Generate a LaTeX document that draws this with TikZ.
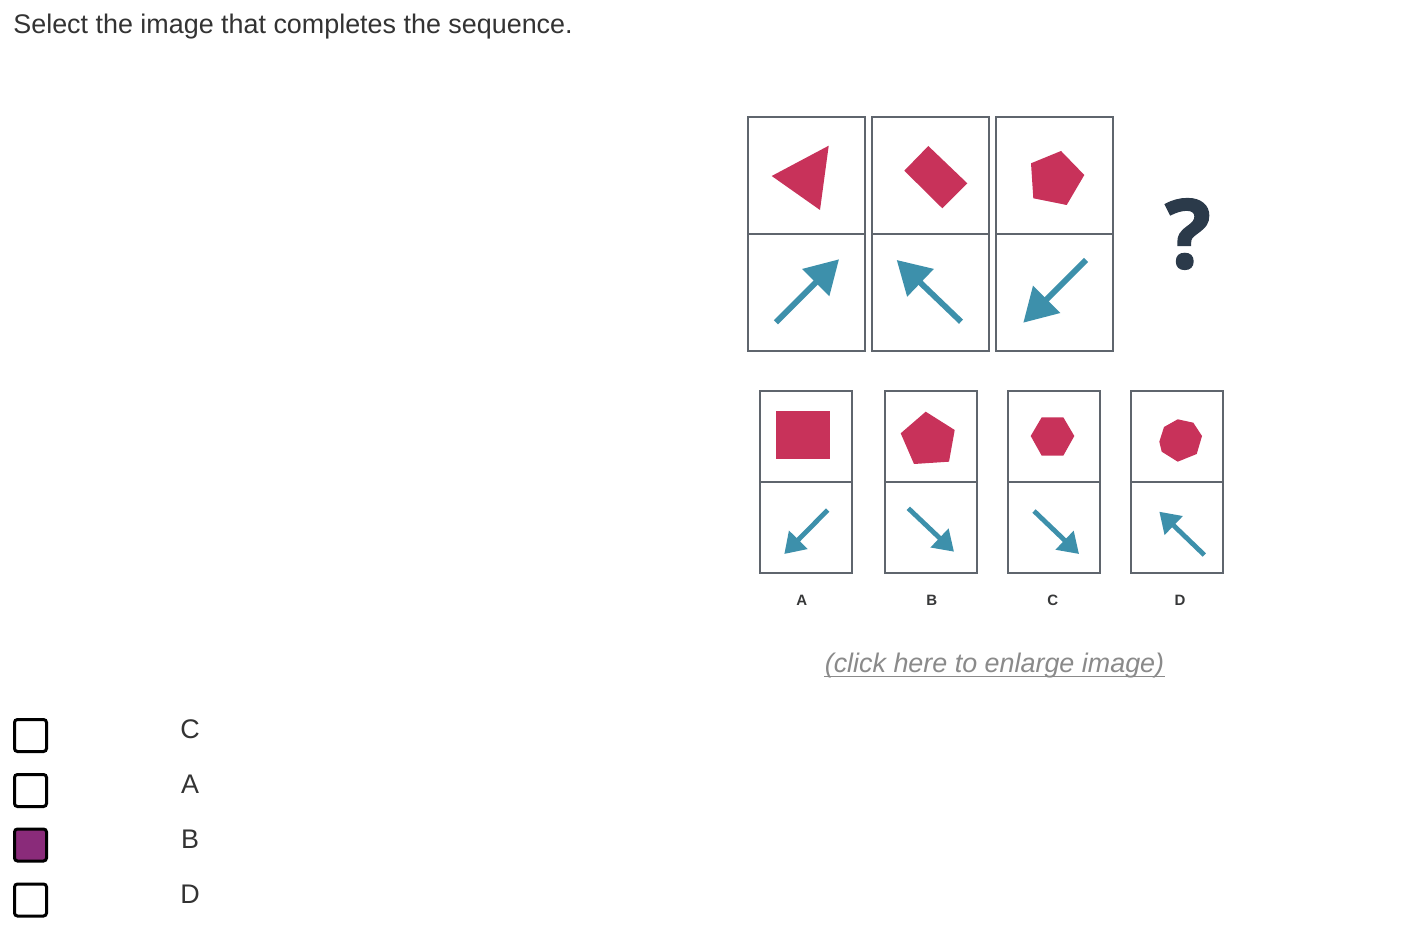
\documentclass[tikz,border=0pt]{standalone}
\usepackage{fontspec}
\setmainfont{Liberation Sans}
\newfontfamily\qfont[FakeBold=1.5]{Open Sans}
\usetikzlibrary{arrows.meta}
\definecolor{shapered}{HTML}{C8325A}
\definecolor{arrowblue}{HTML}{3D90AB}
\definecolor{cellgray}{HTML}{5F656D}
\definecolor{qdark}{HTML}{2B3A4A}
\definecolor{textgray}{HTML}{333333}
\definecolor{linkgray}{HTML}{8A8A8A}
\definecolor{tickpurple}{HTML}{8A2B7A}

\begin{document}
\begin{tikzpicture}[x=0.5pt, y=-0.5pt,
            cell/.style={rectangle, draw=cellgray, line width=1pt, fill=white, minimum width=58.5pt, minimum height=58.5pt, inner sep=0pt},
            optcell/.style={rectangle, draw=cellgray, line width=1pt, fill=white, minimum width=46pt, minimum height=45.5pt, inner sep=0pt},
            bigarrow/.style={draw=arrowblue, line width=2.9pt, -{Triangle[length=16.5pt, width=18.5pt]}},
            smallarrow/.style={draw=arrowblue, line width=2.4pt, -{Triangle[length=10pt, width=12.5pt]}},
            chk/.style={rectangle, draw=black, line width=1.5pt, rounded corners=1.5pt, minimum size=16pt, inner sep=0pt},
            choice/.style={text=textgray, font=\fontsize{13.45pt}{16pt}\selectfont},
            optlabel/.style={text=textgray!90!cellgray, font=\fontsize{7.5pt}{9pt}\selectfont\bfseries}
        ]
        \useasboundingbox[fill=white] (0,0) rectangle (1428,940);

        % Question text
        \node[anchor=base west, inner sep=0pt, text=textgray, font=\fontsize{13.45pt}{16pt}\selectfont] (title) at (13,34) {Select the image that completes the sequence.};

        % Sequence grid
        \node[cell] (s1) at (806.5,175.5) {};
        \node[cell] (s2) at (930.5,175.5) {};
        \node[cell] (s3) at (1054.5,175.5) {};
        \node[cell] (a1) at (806.5,292.5) {};
        \node[cell] (a2) at (930.5,292.5) {};
        \node[cell] (a3) at (1054.5,292.5) {};

        \fill[shapered] (771.7,176) -- (828.7,145.7) -- (820,210) -- cycle;
        \fill[shapered] (928.3,146) -- (967.3,183.3) -- (942.3,208.3) -- (904.3,170.7) -- cycle;
        \fill[shapered] (1061,151) -- (1084.3,175) -- (1066.7,205) -- (1033.3,198.3) -- (1031,163.3) -- cycle;

        \draw[bigarrow] (776,322.3) -- (839,259.3);
        \draw[bigarrow] (961,321.7) -- (896.7,260);
        \draw[bigarrow] (1086,260) -- (1023.3,322.7);

        \node[text=qdark, font=\fontsize{48pt}{56pt}\qfont\bfseries] (qmark) at (1188,234) {?};

        % Answer options
        \node[optcell] (oa1) at (806,436.5) {};
        \node[optcell] (oa2) at (806,527.5) {};
        \node[optcell] (ob1) at (931,436.5) {};
        \node[optcell] (ob2) at (931,527.5) {};
        \node[optcell] (oc1) at (1054,436.5) {};
        \node[optcell] (oc2) at (1054,527.5) {};
        \node[optcell] (od1) at (1177,436.5) {};
        \node[optcell] (od2) at (1177,527.5) {};

        \fill[shapered] (776,410.7) rectangle (830,459.3);
        \fill[shapered] (925.7,411.7) -- (954.7,430) -- (949,461.7) -- (914,464) -- (900.7,433.3) -- cycle;
        \fill[shapered] (1030.7,436) -- (1041.7,417.3) -- (1063.3,417.3) -- (1074.3,436) -- (1063.3,455.7) -- (1041.7,455.7) -- cycle;
        \fill[shapered] (1177.7,419.3) -- (1193.3,422.7) -- (1202,436) -- (1196.7,454) -- (1177.7,461.7) -- (1161.7,451.7) -- (1159.3,441.7) -- (1164,427) -- cycle;

        \draw[smallarrow] (827.7,510) -- (784.3,554);
        \draw[smallarrow] (908.3,508.3) -- (954,551.7);
        \draw[smallarrow] (1034,511) -- (1079,554);
        \draw[smallarrow] (1204.3,555) -- (1159.3,511.7);

        \node[optlabel] (la) at (801.7,600) {A};
        \node[optlabel] (lb) at (931.7,600) {B};
        \node[optlabel] (lc) at (1052.7,600) {C};
        \node[optlabel] (ld) at (1180,600) {D};

        \node[anchor=base, inner sep=0pt, text=linkgray, font=\fontsize{13.45pt}{16pt}\selectfont\itshape] (link) at (994.5,672) {(click here to enlarge image)};
        \draw[linkgray, line width=0.6pt] ([yshift=-2.4pt]link.base west) -- ([yshift=-2.4pt]link.base east);

        % Answer checkboxes
        \node[chk] (k1) at (30.5,735.5) {};
        \node[chk] (k2) at (30.5,790.5) {};
        \node[chk, fill=tickpurple] (k3) at (30.5,845) {};
        \node[chk] (k4) at (30.5,900) {};
        \node[choice] (c1) at (190,729) {C};
        \node[choice] (c2) at (190,784) {A};
        \node[choice] (c3) at (190,839) {B};
        \node[choice] (c4) at (190,894) {D};
        \end{tikzpicture}
\end{document}
